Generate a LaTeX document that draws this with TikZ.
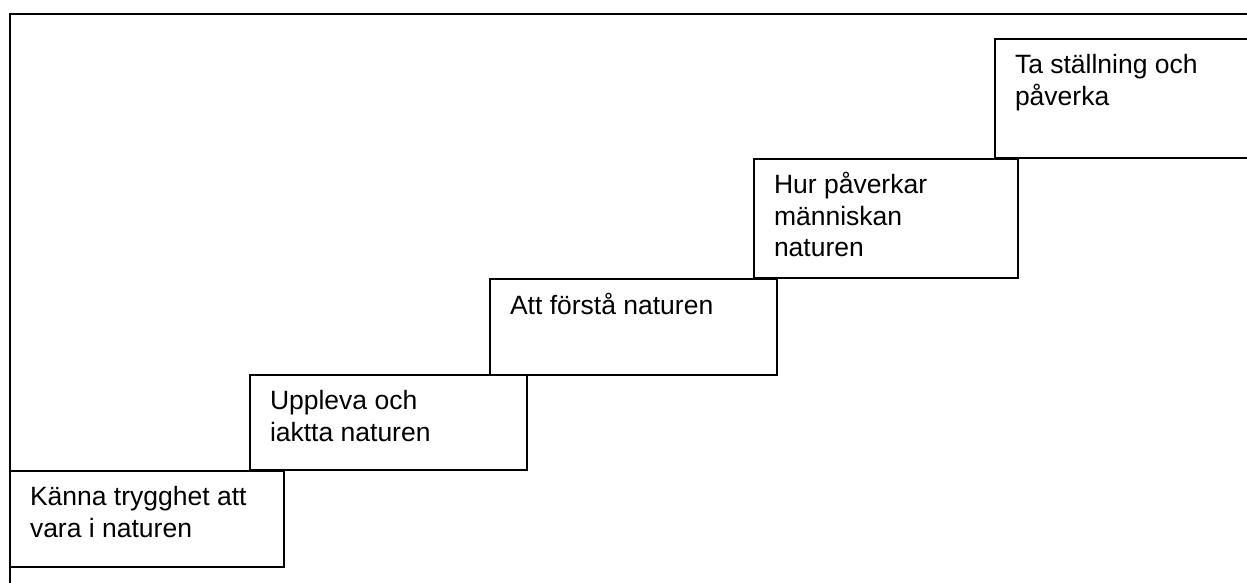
\documentclass[tikz,border=0pt]{standalone}
\usepackage{fontspec}
\setmainfont{Liberation Sans}
\tikzset{
  frameline/.style={draw, line width=2pt},
  stepbox/.style={draw, line width=2pt, anchor=north west, inner sep=0pt, outer sep=0pt},
  steptext/.style={anchor=base west, inner sep=0pt, outer sep=0pt, font=\fontsize{26.5}{31.5}\selectfont}
}
\newcommand{\steplines}[1]{\parbox[t]{320pt}{\raggedright #1}}
\begin{document}
\begin{tikzpicture}[x=1pt,y=1pt]
\useasboundingbox (0,0) rectangle (1247,583);
\coordinate (fbl) at (10,0);
\coordinate (ftl) at (10,568.5);
\coordinate (ftr) at (1247,568.5);
\draw[frameline] (fbl) -- (ftl) -- (ftr);

\node[stepbox, minimum width=274, minimum height=96] (b1) at (10,112) {};
\node[stepbox, minimum width=277, minimum height=95] (b2) at (250,208) {};
\node[stepbox, minimum width=287, minimum height=96] (b3) at (490,304) {};
\node[stepbox, minimum width=264, minimum height=119] (b4) at (754,424) {};
\node[stepbox, minimum width=270, minimum height=119] (b5) at (995,544) {};

\node[steptext] (t1) at (30,77) {\steplines{Känna trygghet att\\vara i naturen}};
\node[steptext] (t2) at (270,173) {\steplines{Uppleva och\\iaktta naturen}};
\node[steptext] (t3) at (510,268) {\steplines{Att förstå naturen}};
\node[steptext] (t4) at (774,389) {\steplines{Hur påverkar\\människan\\naturen}};
\node[steptext] (t5) at (1015,509) {\steplines{Ta ställning och\\påverka}};
\end{tikzpicture}
\end{document}
